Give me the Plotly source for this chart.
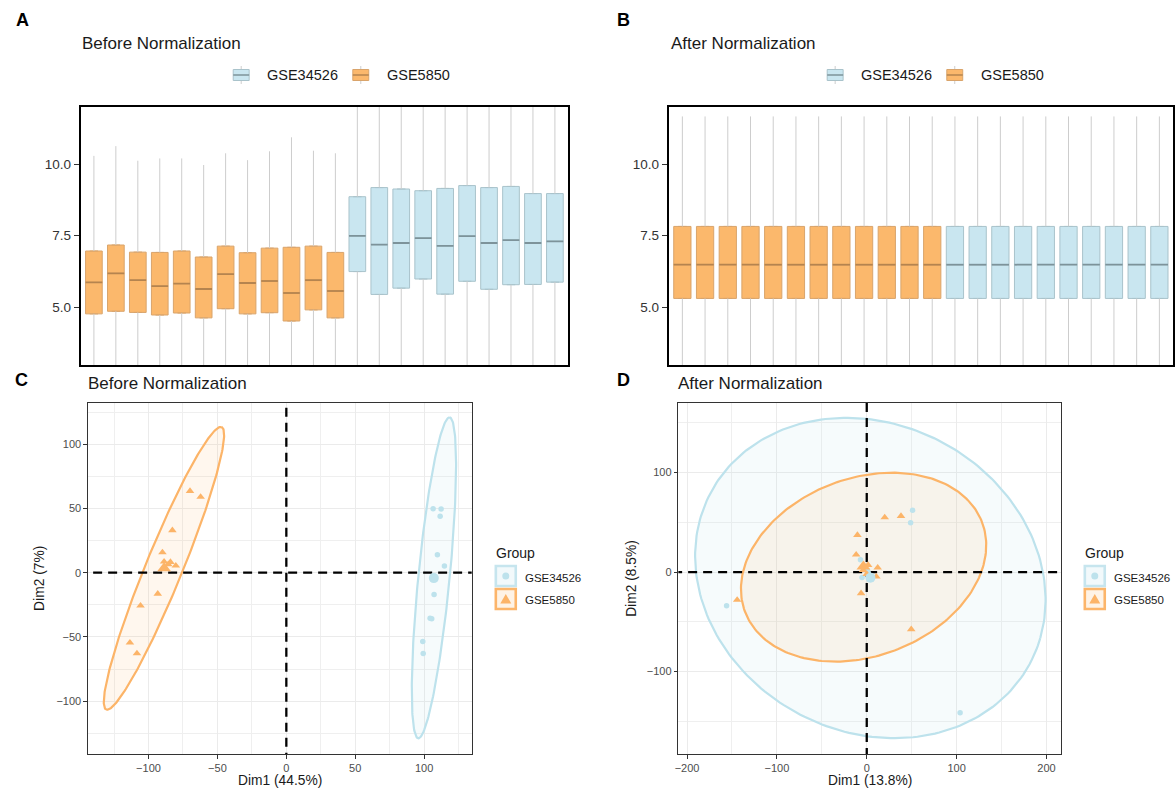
import numpy as np
import plotly.graph_objects as go

W, H = 1176, 789
FONT = "Liberation Sans"

# ---------------- data: boxplots (A, B) ----------------
samples = [f"GSE5850_{i+1}" for i in range(12)] + [f"GSE34526_{i+1}" for i in range(10)]
sample_group = ["GSE5850"] * 12 + ["GSE34526"] * 10

before_q1 = [4.76, 4.85, 4.81, 4.72, 4.79, 4.62, 4.94, 4.76, 4.80, 4.51, 4.90, 4.62,
             6.24, 5.44, 5.66, 5.98, 5.45, 5.90, 5.62, 5.78, 5.79, 5.87]
before_median = [5.86, 6.18, 5.94, 5.73, 5.82, 5.63, 6.15, 5.84, 5.91, 5.49, 5.94, 5.56,
                 7.49, 7.18, 7.24, 7.41, 7.14, 7.48, 7.24, 7.34, 7.24, 7.30]
before_q3 = [6.96, 7.17, 6.92, 6.91, 6.96, 6.75, 7.13, 6.90, 7.06, 7.09, 7.13, 6.91,
             8.86, 9.18, 9.13, 9.07, 9.15, 9.25, 9.18, 9.22, 8.97, 8.97]
before_upper = [10.29, 10.63, 10.12, 10.20, 10.20, 9.97, 10.38, 10.14, 10.45, 10.94, 10.47, 10.38,
                12.9, 13.8, 13.6, 13.4, 13.7, 13.9, 13.8, 13.8, 13.2, 13.1]
before_lower = [1.6, 1.7, 1.6, 1.5, 1.6, 1.4, 1.8, 1.6, 1.6, 1.2, 1.7, 1.4,
                2.3, 1.0, 1.4, 1.8, 1.0, 1.6, 1.3, 1.5, 1.6, 1.8]

after_q1 = [5.30] * 22
after_median = [6.48] * 22
after_q3 = [7.82] * 22
after_upper = [11.67] * 22
after_lower = [1.45] * 22

# ---------------- data: PCA (C, D) ----------------
before_x_gse5850 = [-69.9, -62.2, -82.7, -89.9, -88.7, -84.1, -80.2, -85.7, -93.3, -105.8, -113.5, -108.4]
before_y_gse5850 = [63.6, 59.0, 33.0, 15.8, 8.6, 8.3, 5.5, 6.5, -16.4, -25.7, -54.5, -62.9]
before_x_gse34526 = [106.5, 112.3, 111.6, 109.6, 114.7, 107.2, 105.5, 104.3, 99.0, 99.3]
before_y_gse34526 = [49.9, 49.6, 43.9, 14.0, 5.2, -16.9, -35.8, -35.5, -53.5, -62.9]

after_x_gse5850 = [20.0, 38.1, -10.4, -11.8, 1.5, 12.2, 10.7, -6.3, -144.2, 49.5, -4.0, 0.0]
after_y_gse5850 = [54.9, 56.3, 37.2, 17.4, 7.0, 4.4, -4.7, -21.4, -28.1, -57.6, 2.0, -2.0]
after_x_gse34526 = [51.0, 48.8, -7.0, -5.2, -156.0, 103.9, 0.0, 3.0, 1.0, 1.5]
after_y_gse34526 = [62.0, 49.6, 12.4, -5.4, -33.8, -141.4, 2.0, -3.0, 1.0, -0.4]

# ellipse parameters: centre x, centre y, semi-major, semi-minor, angle (deg)
before_ellipse_gse5850 = [-88.8, 3.4, 117.7, 13.5, 69.2]
before_ellipse_gse34526 = [107.1, -4.0, 125.5, 11.4, 84.8]
after_ellipse_gse5850 = [-3.5, 4.9, 139.6, 90.3, 16.0]
after_ellipse_gse34526 = [4.0, -6.0, 198.5, 156.7, -17.7]

# ---------------- styles ----------------
OR_FILL, OR_EDGE, OR_MED = "#FBB86C", "#D9A46B", "#B5844F"
BL_FILL, BL_EDGE, BL_MED = "#C9E6F0", "#A9C3CB", "#7D939A"
WHISK = "#CDCDCD"
OR_PT, BL_PT = "#FCB468", "#BDE2EC"
OR_ELL_FILL = "rgba(251,178,100,0.11)"
BL_ELL_FILL = "rgba(190,226,237,0.14)"


def px(x):
    return x / W


def py(y):
    return 1 - y / H


fig = go.Figure()

BOX_W = 0.76


def add_boxes(xa, ya, q1, med, q3, lo, hi):
    idx = list(range(len(samples)))
    for grp, fill, edge, medc in [("GSE5850", OR_FILL, OR_EDGE, OR_MED),
                                  ("GSE34526", BL_FILL, BL_EDGE, BL_MED)]:
        sel = [i for i in idx if sample_group[i] == grp]
        wx, wy = [], []
        for i in sel:
            wx += [i, i, None, i, i, None]
            wy += [q3[i], hi[i], None, lo[i], q1[i], None]
        fig.add_trace(go.Scatter(x=wx, y=wy, mode="lines", line=dict(color=WHISK, width=1),
                                 xaxis=xa, yaxis=ya, hoverinfo="skip", showlegend=False))
        fig.add_trace(go.Box(x=sel, q1=[q1[i] for i in sel], median=[med[i] for i in sel],
                             q3=[q3[i] for i in sel], lowerfence=[q1[i] for i in sel],
                             upperfence=[q3[i] for i in sel], width=BOX_W,
                             fillcolor=fill, line=dict(color=edge, width=1),
                             xaxis=xa, yaxis=ya, name=grp, showlegend=False))
        mx, my = [], []
        for i in sel:
            mx += [i - BOX_W / 2, i + BOX_W / 2, None]
            my += [med[i], med[i], None]
        fig.add_trace(go.Scatter(x=mx, y=my, mode="lines", line=dict(color=medc, width=1.8),
                                 xaxis=xa, yaxis=ya, hoverinfo="skip", showlegend=False))


add_boxes("x", "y", before_q1, before_median, before_q3, before_lower, before_upper)
add_boxes("x2", "y2", after_q1, after_median, after_q3, after_lower, after_upper)


def ellipse_path(p):
    cx, cy, a, b, deg = p
    t = np.linspace(0, 2 * np.pi, 240)
    ph = np.deg2rad(deg)
    x = cx + a * np.cos(t) * np.cos(ph) - b * np.sin(t) * np.sin(ph)
    y = cy + a * np.cos(t) * np.sin(ph) + b * np.sin(t) * np.cos(ph)
    return x, y


def add_pca(xa, ya, ell_or, ell_bl, xo, yo, xb, yb):
    for ell, col, fc in [(ell_bl, BL_PT, BL_ELL_FILL), (ell_or, OR_PT, OR_ELL_FILL)]:
        ex, ey = ellipse_path(ell)
        fig.add_trace(go.Scatter(x=ex, y=ey, mode="lines", fill="toself", fillcolor=fc,
                                 line=dict(color=col, width=2.2), xaxis=xa, yaxis=ya,
                                 hoverinfo="skip", showlegend=False))
    # reference lines
    fig.add_trace(go.Scatter(x=[0, 0], y=[-1000, 1000], mode="lines",
                             line=dict(color="black", width=2.3, dash="9px,6px"),
                             xaxis=xa, yaxis=ya, hoverinfo="skip", showlegend=False))
    fig.add_trace(go.Scatter(x=[-1000, 1000], y=[0, 0], mode="lines",
                             line=dict(color="black", width=2.3, dash="9px,6px"),
                             xaxis=xa, yaxis=ya, hoverinfo="skip", showlegend=False))
    fig.add_trace(go.Scatter(x=xb, y=yb, mode="markers",
                             marker=dict(symbol="circle", size=5.5, color=BL_PT),
                             xaxis=xa, yaxis=ya, name="GSE34526", showlegend=False))
    fig.add_trace(go.Scatter(x=xo, y=yo, mode="markers",
                             marker=dict(symbol="triangle-up", size=7.5, color=OR_PT),
                             xaxis=xa, yaxis=ya, name="GSE5850", showlegend=False))
    fig.add_trace(go.Scatter(x=[np.mean(xb)], y=[np.mean(yb)], mode="markers",
                             marker=dict(symbol="circle", size=10, color=BL_PT),
                             xaxis=xa, yaxis=ya, showlegend=False))
    fig.add_trace(go.Scatter(x=[np.mean(xo)], y=[np.mean(yo)], mode="markers",
                             marker=dict(symbol="triangle-up", size=12, color=OR_PT),
                             xaxis=xa, yaxis=ya, showlegend=False))


add_pca("x3", "y3", before_ellipse_gse5850, before_ellipse_gse34526,
        before_x_gse5850, before_y_gse5850, before_x_gse34526, before_y_gse34526)
add_pca("x4", "y4", after_ellipse_gse5850, after_ellipse_gse34526,
        after_x_gse5850, after_y_gse5850, after_x_gse34526, after_y_gse34526)

# ---------------- axes ----------------
box_x = dict(range=[-0.6, 21.6], showticklabels=False, ticks="", showgrid=False, zeroline=False,
             showline=True, mirror=True, linecolor="black", linewidth=2)
box_y = dict(range=[2.97, 12.0], tickvals=[5, 7.5, 10], ticktext=["5.0", "7.5", "10.0"],
             ticks="outside", ticklen=5, tickcolor="#333333", tickwidth=1,
             tickfont=dict(size=13.5, color="#333333", family=FONT),
             showgrid=False, zeroline=False, showline=True, mirror=True,
             linecolor="black", linewidth=2)

fig.update_layout(
    xaxis=dict(domain=[px(77), px(566)], anchor="y", **box_x),
    yaxis=dict(domain=[py(365), py(107)], anchor="x", **box_y),
    xaxis2=dict(domain=[px(667), px(1173)], anchor="y2", **box_x),
    yaxis2=dict(domain=[py(365), py(107)], anchor="x2", **box_y),
)


def pca_axis(rng, dtick, minor, dom, anchor):
    return dict(range=rng, domain=dom, anchor=anchor, dtick=dtick, tick0=0,
                ticks="outside", ticklen=3.5, tickwidth=1, tickcolor="#333333",
                tickfont=dict(size=11, color="#4D4D4D", family=FONT),
                showgrid=True, gridcolor="#EBEBEB", gridwidth=1.4,
                minor=dict(dtick=minor, tick0=0, showgrid=True, gridcolor="#EFEFEF", gridwidth=0.7, ticks=""),
                zeroline=False, showline=True, mirror=True, linecolor="#333333", linewidth=1.3)


fig.update_layout(
    xaxis3=pca_axis([-143.9, 134.5], 50, 25, [px(84.3), px(469.3)], "y3"),
    yaxis3=pca_axis([-141.2, 132.4], 50, 25, [py(754), py(402.7)], "x3"),
    xaxis4=pca_axis([-209.6, 216.6], 100, 50, [px(676.7), px(1061)], "y4"),
    yaxis4=pca_axis([-182.9, 170.2], 100, 50, [py(754), py(402.7)], "x4"),
)

# ---------------- annotations ----------------
ann = []


def text(x, y, s, size, color="#1A1A1A", anchor="left", bold=False, angle=0):
    ann.append(dict(x=px(x), y=py(y), xref="paper", yref="paper", text=f"<b>{s}</b>" if bold else s,
                    showarrow=False, xanchor=anchor, yanchor="middle", textangle=angle,
                    borderpad=0, font=dict(size=size, color=color, family=FONT)))


for lab, x, y in [("A", 11, 20), ("B", 614, 20), ("C", 10, 380), ("D", 614, 380)]:
    text(x, y, lab, 18, "black", bold=True)
text(77, 43, "Before Normalization", 17)
text(668, 43, "After Normalization", 17)
text(83, 384, "Before Normalization", 17)
text(675, 384, "After Normalization", 17)
text(276.8, 780.5, "Dim1 (44.5%)", 13.8, anchor="center")
text(868.9, 780.5, "Dim1 (13.8%)", 13.8, anchor="center")
text(35, 578, "Dim2 (7%)", 13.8, anchor="center", angle=-90)
text(629, 578, "Dim2 (8.5%)", 13.8, anchor="center", angle=-90)

shapes = []


def box_key(x0, yc, fill, edge, medc):
    shapes.append(dict(type="line", xref="paper", yref="paper", x0=px(x0 + 8), x1=px(x0 + 8),
                       y0=py(yc - 9), y1=py(yc + 9), line=dict(color=WHISK, width=1)))
    shapes.append(dict(type="rect", xref="paper", yref="paper", x0=px(x0), x1=px(x0 + 16),
                       y0=py(yc + 5.5), y1=py(yc - 5.5), fillcolor=fill, line=dict(color=edge, width=1)))
    shapes.append(dict(type="line", xref="paper", yref="paper", x0=px(x0), x1=px(x0 + 16),
                       y0=py(yc), y1=py(yc), line=dict(color=medc, width=1.5)))


for start in (230, 826):
    box_key(start, 75, BL_FILL, BL_EDGE, BL_MED)
    text(start + 33, 75, "GSE34526", 14.5)
    box_key(start + 120, 75, OR_FILL, OR_EDGE, OR_MED)
    text(start + 153, 75, "GSE5850", 14.5)


def group_legend(x0):
    text(x0, 552.7, "Group", 14)
    # blue key
    shapes.append(dict(type="rect", xref="paper", yref="paper", x0=px(x0 + 1), x1=px(x0 + 21),
                       y0=py(586), y1=py(566), fillcolor="#F2F9FB", line=dict(color="#C6E5EE", width=2.6)))
    shapes.append(dict(type="circle", xref="paper", yref="paper", x0=px(x0 + 7.5), x1=px(x0 + 14.5),
                       y0=py(579.5), y1=py(572.5), fillcolor=BL_PT, line=dict(width=0)))
    # orange key
    shapes.append(dict(type="rect", xref="paper", yref="paper", x0=px(x0 + 1), x1=px(x0 + 21),
                       y0=py(609), y1=py(589), fillcolor="#FEF3E6", line=dict(color="#FCB56A", width=2.6)))
    p = f"M {px(x0 + 5.5)},{py(603.5)} L {px(x0 + 16.5)},{py(603.5)} L {px(x0 + 11)},{py(594)} Z"
    shapes.append(dict(type="path", xref="paper", yref="paper", path=p, fillcolor=OR_PT, line=dict(width=0)))
    text(x0 + 29, 577.5, "GSE34526", 11.5)
    text(x0 + 29, 600, "GSE5850", 11.5)


group_legend(492.5)
group_legend(1083.5)

fig.update_layout(
    width=W, height=H, margin=dict(l=0, r=0, t=0, b=0),
    paper_bgcolor="white", plot_bgcolor="white", showlegend=False,
    font=dict(family=FONT), annotations=ann, shapes=shapes,
)

fig.write_html("out.html", config={"displayModeBar": False},
               post_script="document.body.style.margin='0';document.body.style.overflow='hidden';")
